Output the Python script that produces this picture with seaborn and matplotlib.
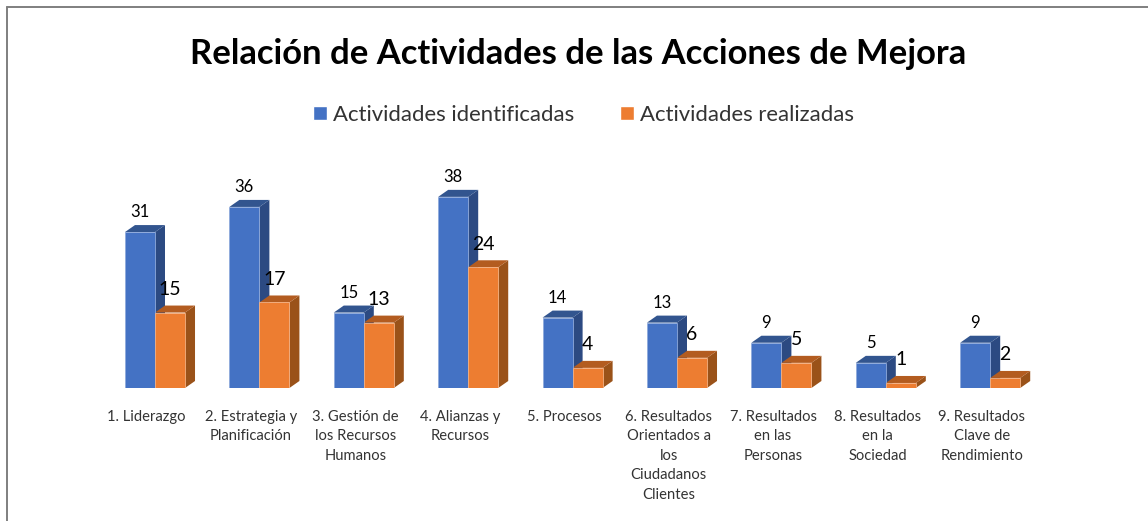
import numpy as np
import pandas as pd
import seaborn as sns
import matplotlib.pyplot as plt
from matplotlib.patches import Polygon

categories = ['1. Liderazgo', '2. Estrategia y\nPlanificación', '3. Gestión de\nlos Recursos\nHumanos',
              '4. Alianzas y\nRecursos', '5. Procesos', '6. Resultados\nOrientados a\nlos\nCiudadanos\nClientes',
              '7. Resultados\nen las\nPersonas', '8. Resultados\nen la\nSociedad', '9. Resultados\nClave de\nRendimiento']
identificadas = [31, 36, 15, 38, 14, 13, 9, 5, 9]
realizadas = [15, 17, 13, 24, 4, 6, 5, 1, 2]
series_names = ['Actividades identificadas', 'Actividades realizadas']

sns.set_theme(style='white')
plt.rcParams['font.family'] = ['Lato', 'DejaVu Sans']

df = pd.DataFrame({'categoria': categories, series_names[0]: identificadas, series_names[1]: realizadas})
df = df.melt(id_vars='categoria', var_name='serie', value_name='valor')

W, H = 1148, 521
fig = plt.figure(figsize=(W / 100, H / 100), dpi=100)
# axes placed in pixels so one category is about 104 px and one unit about 5 px
ax = fig.add_axes([102.8 / W, (H - 388) / H, 939.6 / W, 201.2 / H])

sns.barplot(data=df, x='categoria', y='valor', hue='serie', hue_order=series_names,
            palette=['#4472C4', '#ED7D31'], width=0.575, gap=0, saturation=1, ax=ax, zorder=3)
ax.set_ylim(0, 40)
ax.set_xlim(-0.5, 8.5)

# fake 3D depth: side and top faces built from each bar
dx = 10 / 104.4
dy = 7 / 5.03
faces = {0: ('#2C4A82', '#32558F'), 1: ('#9A5219', '#B35C20')}
edges = {0: '#8FAADC', 1: '#F4B183'}
for s, cont in enumerate(ax.containers):
    for bar in cont:
        x0, w, h = bar.get_x(), bar.get_width(), bar.get_height()
        x1 = x0 + w
        bar.set_edgecolor(edges[s])
        bar.set_linewidth(0.6)
        ax.add_patch(Polygon([(x1, 0), (x1 + dx, dy), (x1 + dx, h + dy), (x1, h)],
                             fc=faces[s][0], ec='none', zorder=2 + s * 0.5, clip_on=False))
        ax.add_patch(Polygon([(x0, h), (x0 + dx, h + dy), (x1 + dx, h + dy), (x1, h)],
                             fc=faces[s][1], ec='none', zorder=2 + s * 0.5, clip_on=False))

    # value labels
    off, size = (20, 12) if s == 0 else (23, 14)
    for bar in cont:
        ax.annotate(f'{bar.get_height():.0f}', (bar.get_x() + bar.get_width() / 2, bar.get_height()),
                    xytext=(0, off * 0.72), textcoords='offset points', ha='center', va='center',
                    fontsize=size, color='black', zorder=5, annotation_clip=False)

ax.set_xlabel('')
ax.set_ylabel('')
ax.set_yticks([])
# category labels sit a little left of the bar pairs
ax.set_xticks(np.arange(9) - 0.08)
ax.set_xticklabels(categories, fontsize=10.6, color='#333333', linespacing=1.5, va='top')
ax.tick_params(axis='x', length=0, pad=15.5)
sns.despine(ax=ax, left=True, bottom=True)
ax.patch.set_alpha(0)

sns.move_legend(ax, 'center', bbox_to_anchor=(583.5 / W, 1 - 115 / H), bbox_transform=fig.transFigure,
                ncol=2, title=None, frameon=False, fontsize=15.9, handlelength=0.63, handleheight=0.63,
                handletextpad=0.27, columnspacing=2.1)
for t in ax.get_legend().get_texts():
    t.set_color('#333333')

fig.text(578 / W, 1 - 54.5 / H, 'Relación de Actividades de las Acciones de Mejora', ha='center', va='center',
         fontsize=24.9, fontweight='bold', color='black')

# outer frame of the chart, only left and top show in the crop
fig.add_artist(plt.Line2D([6.5 / W, 6.5 / W], [0, 1 - 6.5 / H], color='#7F7F7F', lw=1.4))
fig.add_artist(plt.Line2D([6.5 / W, 1], [1 - 6.5 / H, 1 - 6.5 / H], color='#7F7F7F', lw=1.4))

fig.savefig('out.png', dpi=100)
